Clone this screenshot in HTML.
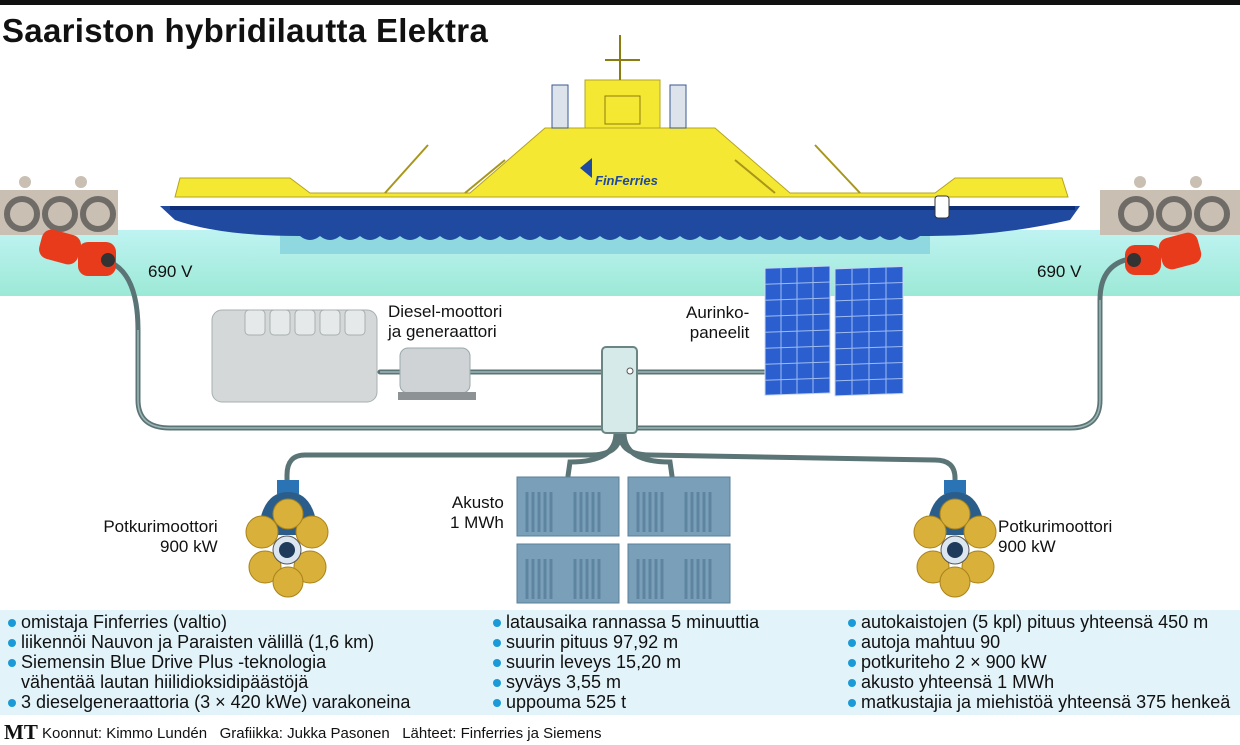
<!DOCTYPE html>
<html><head><meta charset="utf-8">
<style>
html,body{margin:0;padding:0;background:#fff;}
body{width:1240px;height:745px;position:relative;overflow:hidden;font-family:"Liberation Sans Narrow","Liberation Sans",sans-serif;}
.t{position:absolute;color:#111;font-size:17px;line-height:20px;white-space:nowrap;}
.info{position:absolute;top:612px;font-size:18px;line-height:20px;color:#111;}
.info div{white-space:nowrap;}
.b{display:inline-block;width:8px;height:8px;border-radius:50%;background:#1a9ad6;margin-right:5px;vertical-align:1px;}
</style></head><body>
<svg width="1240" height="745" style="position:absolute;left:0;top:0">
<defs>
<linearGradient id="w" x1="0" y1="0" x2="0" y2="1"><stop offset="0" stop-color="#bff3f2"/><stop offset="1" stop-color="#9ce9d6"/></linearGradient>
</defs>
<rect x="0" y="0" width="1240" height="5" fill="#111"/>
<rect x="0" y="230" width="1240" height="66" fill="url(#w)"/>
<rect x="280" y="230" width="650" height="24" fill="#8fd8df"/>
<g fill="#c9bfb3"><rect x="0" y="190" width="118" height="45"/><rect x="1100" y="190" width="140" height="45"/>
<circle cx="25" cy="182" r="6"/><circle cx="81" cy="182" r="6"/><circle cx="1140" cy="182" r="6"/><circle cx="1196" cy="182" r="6"/></g>
<g fill="none" stroke="#6f6b66" stroke-width="6">
<circle cx="22" cy="214" r="15"/><circle cx="60" cy="214" r="15"/><circle cx="98" cy="214" r="15"/>
<circle cx="1136" cy="214" r="15"/><circle cx="1174" cy="214" r="15"/><circle cx="1212" cy="214" r="15"/></g>
<path d="M160 206 L1080 206 L1070 220 Q1000 236 930 236 L300 236 Q220 236 175 220 Z" fill="#1f4aa0"/>
<path d="M170 206 L1075 206 L1075 210 L170 210Z" fill="#0e2f78"/>
<rect x="172" y="197" width="900" height="9" fill="#fff"/>
<path d="M175 197 L180 178 L290 178 L310 193 L470 193 L545 128 L715 128 L790 193 L935 193 L955 178 L1062 178 L1068 197 Z" fill="#f5e832" stroke="#b5a420" stroke-width="1"/>
<rect x="585" y="80" width="75" height="48" fill="#f5e832" stroke="#b5a420"/>
<rect x="552" y="85" width="16" height="43" fill="#dde3ea" stroke="#3a5a90"/>
<rect x="670" y="85" width="16" height="43" fill="#dde3ea" stroke="#3a5a90"/>
<line x1="620" y1="35" x2="620" y2="80" stroke="#8a7c10" stroke-width="2"/>
<line x1="605" y1="60" x2="640" y2="60" stroke="#8a7c10" stroke-width="2"/>
<rect x="605" y="96" width="35" height="28" fill="#f5e832" stroke="#8a7c10"/>
<g stroke="#a8961a" stroke-width="2"><line x1="385" y1="193" x2="428" y2="145"/><line x1="860" y1="193" x2="815" y2="145"/><line x1="465" y1="193" x2="505" y2="160"/><line x1="775" y1="193" x2="735" y2="160"/></g>
<path d="M580 168 l12 -10 v20z" fill="#1f4aa0"/>
<text x="595" y="185" font-family="Liberation Sans" font-weight="bold" font-style="italic" font-size="13" fill="#1f4aa0">FinFerries</text>
<rect x="935" y="196" width="14" height="22" rx="3" fill="#fff" stroke="#333"/>
<path d="M300 236 q10 8 20 0 q10 8 20 0 q10 8 20 0 q10 8 20 0 q10 8 20 0 q10 8 20 0 q10 8 20 0 q10 8 20 0 q10 8 20 0 q10 8 20 0 q10 8 20 0 q10 8 20 0 q10 8 20 0 q10 8 20 0 q10 8 20 0 q10 8 20 0 q10 8 20 0 q10 8 20 0 q10 8 20 0 q10 8 20 0 q10 8 20 0 q10 8 20 0 q10 8 20 0 q10 8 20 0 q10 8 20 0 q10 8 20 0 q10 8 20 0 q10 8 20 0 q10 8 20 0 q10 8 20 0 q10 8 20 0" fill="#1f4aa0"/>
<g fill="none" stroke="#5b7475" stroke-width="5" stroke-linecap="round">
<path d="M110 262 Q138 275 138 330 L138 400 Q138 428 170 428 L1070 428 Q1100 428 1100 400 L1100 300 Q1100 262 1135 258"/>
<path d="M380 372 L770 372"/>
<path d="M620 433 Q620 455 590 455 L305 455 Q287 455 287 475 L287 495"/>
<path d="M620 433 Q620 455 650 455 L935 460 Q955 460 955 478 L955 495"/>
<path d="M616 433 Q616 462 570 462 L568 476"/>
<path d="M624 433 Q624 462 670 462 L672 476"/>
</g>
<g fill="none" stroke="#9fb6b7" stroke-width="1.5">
<path d="M138 330 L138 400 Q138 428 170 428 L1070 428 Q1100 428 1100 400 L1100 300"/><path d="M380 372 L770 372"/>
</g>
<g fill="#e83b1c"><rect x="40" y="232" width="40" height="30" rx="10" transform="rotate(15 60 247)"/><rect x="78" y="242" width="38" height="34" rx="10"/>
<rect x="1125" y="245" width="36" height="30" rx="10"/><rect x="1160" y="235" width="40" height="32" rx="10" transform="rotate(-15 1180 251)"/></g>
<circle cx="108" cy="260" r="7" fill="#333"/><circle cx="1134" cy="260" r="7" fill="#333"/>
<rect x="212" y="310" width="165" height="92" rx="10" fill="#d4d8d9" stroke="#a8aeb0"/>
<g fill="#e6e9ea" stroke="#a8aeb0"><rect x="245" y="310" width="20" height="25" rx="4"/><rect x="270" y="310" width="20" height="25" rx="4"/><rect x="295" y="310" width="20" height="25" rx="4"/><rect x="320" y="310" width="20" height="25" rx="4"/><rect x="345" y="310" width="20" height="25" rx="4"/></g>
<rect x="400" y="348" width="70" height="45" rx="8" fill="#cfd3d5" stroke="#9aa"/>
<rect x="398" y="392" width="78" height="8" fill="#8d9395"/>
<g transform="skewY(-2)">
<rect x="765" y="295" width="65" height="127" fill="#2b5fd0" stroke="#c9d8f5"/>
<rect x="835" y="298" width="68" height="127" fill="#2b5fd0" stroke="#c9d8f5"/>
<g stroke="#9fbcf0" stroke-width="1">
<path d="M781 295v127M797 295v127M813 295v127M852 298v127M869 298v127M886 298v127"/>
<path d="M765 311h65M765 327h65M765 343h65M765 359h65M765 375h65M765 391h65M765 407h65M835 314h68M835 330h68M835 346h68M835 362h68M835 378h68M835 394h68M835 410h68"/>
</g></g>
<rect x="602" y="347" width="35" height="86" rx="4" fill="#d7eaea" stroke="#6b8585" stroke-width="2"/>
<circle cx="630" cy="371" r="3" fill="#fff" stroke="#555"/>
<g fill="#7a9fb8" stroke="#5a7f98">
<rect x="517" y="477" width="102" height="59"/><rect x="628" y="477" width="102" height="59"/>
<rect x="517" y="544" width="102" height="59"/><rect x="628" y="544" width="102" height="59"/></g>
<g stroke="#5d84a0" stroke-width="3">
<path d="M527 492v40M533 492v40M539 492v40M545 492v40M551 492v40M575 492v40M581 492v40M587 492v40M593 492v40M599 492v40M638 492v40M644 492v40M650 492v40M656 492v40M662 492v40M686 492v40M692 492v40M698 492v40M704 492v40M710 492v40"/>
<path d="M527 559v40M533 559v40M539 559v40M545 559v40M551 559v40M575 559v40M581 559v40M587 559v40M593 559v40M599 559v40M638 559v40M644 559v40M650 559v40M656 559v40M662 559v40M686 559v40M692 559v40M698 559v40M704 559v40M710 559v40"/>
</g>
<g>
<rect x="277" y="480" width="22" height="14" fill="#2a73b5"/><path d="M258 535 Q261 492 288 492 Q315 492 318 535Z" fill="#2b5d8a"/>
<g fill="#d9b03a" stroke="#a8821a"><circle cx="262" cy="532" r="16"/><circle cx="312" cy="532" r="16"/><circle cx="265" cy="567" r="16"/><circle cx="310" cy="567" r="16"/><circle cx="288" cy="514" r="15"/><circle cx="288" cy="582" r="15"/></g>
<circle cx="287" cy="550" r="14" fill="#dbe6f0" stroke="#555"/><circle cx="287" cy="550" r="8" fill="#1f3a5a"/>
<rect x="944" y="480" width="22" height="14" fill="#2a73b5"/><path d="M926 535 Q929 492 955 492 Q982 492 985 535Z" fill="#2b5d8a"/>
<g fill="#d9b03a" stroke="#a8821a"><circle cx="930" cy="532" r="16"/><circle cx="980" cy="532" r="16"/><circle cx="933" cy="567" r="16"/><circle cx="978" cy="567" r="16"/><circle cx="955" cy="514" r="15"/><circle cx="955" cy="582" r="15"/></g>
<circle cx="955" cy="550" r="14" fill="#dbe6f0" stroke="#555"/><circle cx="955" cy="550" r="8" fill="#1f3a5a"/>
</g>
<rect x="0" y="610" width="1240" height="105" fill="#e2f3f9"/>
</svg>
<div style="position:absolute;left:2px;top:12px;font-family:'Liberation Sans',sans-serif;font-weight:bold;font-size:33px;color:#111;letter-spacing:0.3px">Saariston hybridilautta Elektra</div>
<div class="t" style="left:148px;top:262px">690 V</div>
<div class="t" style="left:1037px;top:262px">690 V</div>
<div class="t" style="left:388px;top:302px">Diesel-moottori<br>ja generaattori</div>
<div class="t" style="left:686px;top:303px;text-align:right">Aurinko-<br>paneelit</div>
<div class="t" style="left:450px;top:493px;text-align:right">Akusto<br>1 MWh</div>
<div class="t" style="left:100px;top:517px;text-align:right">Potkurimoottori<br><span style="padding-left:60px">900 kW</span></div>
<div class="t" style="left:998px;top:517px">Potkurimoottori<br>900 kW</div>
<div class="info" style="left:8px">
<div><span class="b"></span>omistaja Finferries (valtio)</div>
<div><span class="b"></span>liikennöi Nauvon ja Paraisten välillä (1,6 km)</div>
<div><span class="b"></span>Siemensin Blue Drive Plus -teknologia</div>
<div style="padding-left:13px">vähentää lautan hiilidioksidipäästöjä</div>
<div><span class="b"></span>3 dieselgeneraattoria (3 × 420 kWe) varakoneina</div>
</div>
<div class="info" style="left:493px">
<div><span class="b"></span>latausaika rannassa 5 minuuttia</div>
<div><span class="b"></span>suurin pituus 97,92 m</div>
<div><span class="b"></span>suurin leveys 15,20 m</div>
<div><span class="b"></span>syväys 3,55 m</div>
<div><span class="b"></span>uppouma 525 t</div>
</div>
<div class="info" style="left:848px">
<div><span class="b"></span>autokaistojen (5 kpl) pituus yhteensä 450 m</div>
<div><span class="b"></span>autoja mahtuu 90</div>
<div><span class="b"></span>potkuriteho 2 × 900 kW</div>
<div><span class="b"></span>akusto yhteensä 1 MWh</div>
<div><span class="b"></span>matkustajia ja miehistöä yhteensä 375 henkeä</div>
</div>
<div class="t" style="left:4px;top:722px;font-size:15px"><span style="font-family:'Liberation Serif',serif;font-weight:bold;font-size:21px;vertical-align:-1px">MT</span> Koonnut: Kimmo Lundén &nbsp; Grafiikka: Jukka Pasonen &nbsp; Lähteet: Finferries ja Siemens</div>
</body></html>
